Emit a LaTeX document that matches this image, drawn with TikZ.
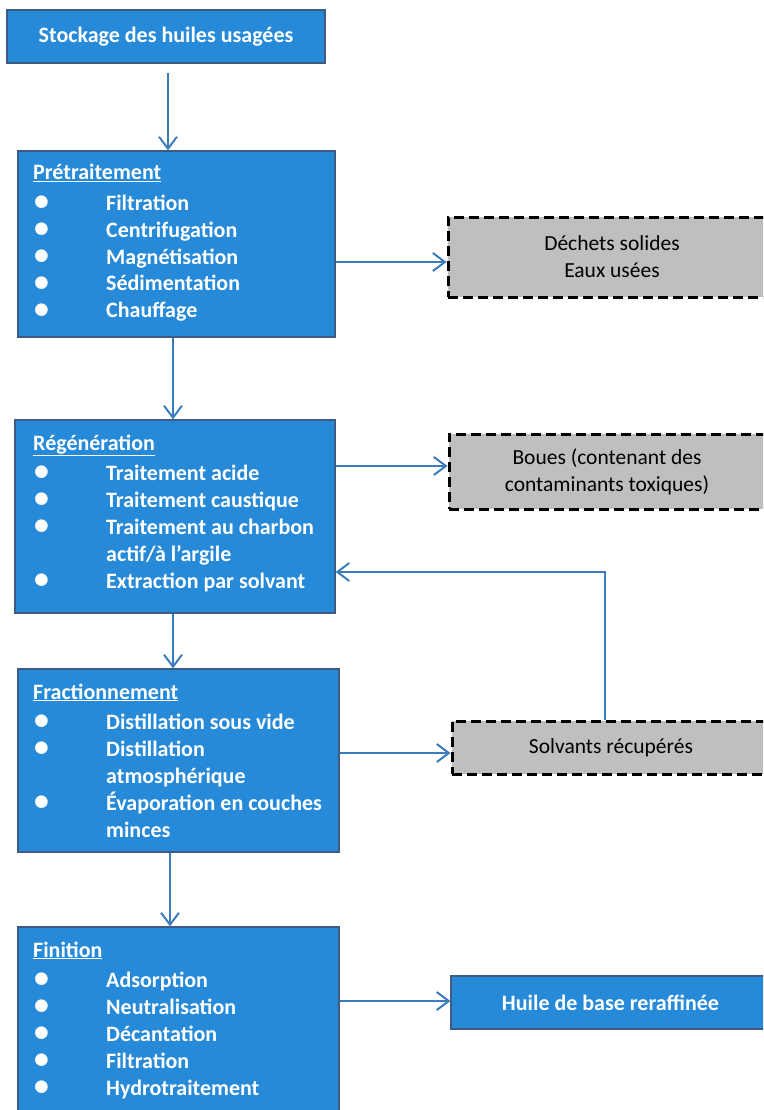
\documentclass[tikz,border=0pt]{standalone}
\usepackage{fontspec}
\setmainfont{Carlito}
\usetikzlibrary{arrows.meta}

\definecolor{bleu}{RGB}{38,138,216}
\definecolor{bord}{RGB}{62,92,130}
\definecolor{trait}{RGB}{60,124,190}
\definecolor{gris}{RGB}{191,191,191}

\newcommand{\puce}{\makebox[73pt][l]{\hspace*{1pt}\raisebox{-0.8pt}{\scalebox{1.35}{\textbullet}}}}
\newcommand{\suite}{\hspace*{73pt}}

\tikzset{
  bluebox/.style={draw=bord, line width=1.2pt, fill=bleu, inner sep=0pt,
    text=white, font=\fontsize{22}{27}\selectfont\bfseries},
  greybox/.style={draw=black, line width=3pt, dash pattern=on 10pt off 5pt,
    fill=gris, inner sep=0pt, align=center, text=black,
    font=\fontsize{21.5}{27}\selectfont},
  liste/.style={anchor=base west, inner sep=0pt, text=white,
    font=\fontsize{22}{27}\selectfont\bfseries},
  fleche/.style={draw=trait, line width=2pt,
    -{Straight Barb[length=12pt,width=18pt]}}
}

\begin{document}
\begin{tikzpicture}[x=1pt, y=-1pt]
        \clip (0,0) rectangle (763,1110);
        % colonne des etapes
        \node [bluebox, minimum width=318, minimum height=53] (stock) at (166,36.5) {Stockage des huiles usagées};
        \node [bluebox, minimum width=317, minimum height=186] (pre) at (176.5,244) {};
        \node [bluebox, minimum width=320, minimum height=193] (regen) at (175,516.5) {};
        \node [bluebox, minimum width=321, minimum height=183] (frac) at (178.5,760.5) {};
        \node [bluebox, minimum width=321, minimum height=193] (fin) at (178.5,1023.5) {};
        % textes des etapes
        \node [liste] (tpre) at (33,180) {\begin{tabular}[t]{@{}l@{}}
          \underline{Prétraitement}\\[3pt]
          \puce Filtration\\
          \puce Centrifugation\\
          \puce Magnétisation\\
          \puce Sédimentation\\
          \puce Chauffage
        \end{tabular}};
        \node [liste] (tregen) at (33,450) {\begin{tabular}[t]{@{}l@{}}
          \underline{Régénération}\\[3pt]
          \puce Traitement acide\\
          \puce Traitement caustique\\
          \puce Traitement au charbon\\
          \suite actif/à l’argile\\
          \puce Extraction par solvant
        \end{tabular}};
        \node [liste] (tfrac) at (33,699) {\begin{tabular}[t]{@{}l@{}}
          \underline{Fractionnement}\\[3pt]
          \puce Distillation sous vide\\
          \puce Distillation\\
          \suite atmosphérique\\
          \puce Évaporation en couches\\
          \suite minces
        \end{tabular}};
        \node [liste] (tfin) at (33,957) {\begin{tabular}[t]{@{}l@{}}
          \underline{Finition}\\[3pt]
          \puce Adsorption\\
          \puce Neutralisation\\
          \puce Décantation\\
          \puce Filtration\\
          \puce Hydrotraitement
        \end{tabular}};
        % sorties
        \node [greybox, minimum width=328, minimum height=80] (dechets) at (612,257) {Déchets solides\\Eaux usées};
        \node [greybox, minimum width=316, minimum height=75] (boues) at (607,471.5) {Boues (contenant des\\contaminants toxiques)};
        \node [greybox, minimum width=318, minimum height=53] (solv) at (611,747.5) {Solvants récupérés};
        \node [bluebox, minimum width=319, minimum height=53] (huile) at (610.5,1002.5) {Huile de base reraffinée};
        % fleches
        \draw [fleche] ([xshift=2pt,yshift=-9pt]stock.south) to ([xshift=2pt]stock.south |- pre.north);
        \draw [fleche] ([xshift=-2pt]regen.north |- pre.south) to ([xshift=-2pt]regen.north);
        \draw [fleche] ([xshift=-2pt]regen.south) to ([xshift=-2pt]regen.south |- frac.north);
        \draw [fleche] ([xshift=-8.5pt]frac.south) to ([xshift=-8.5pt]frac.south |- fin.north);
        \draw [fleche] ([yshift=-18pt]pre.east) to ([yshift=-18pt]pre.east -| dechets.west);
        \draw [fleche] ([yshift=50.5pt]regen.east) to ([yshift=50.5pt]regen.east -| boues.west);
        \draw [fleche] ([yshift=7.5pt]frac.east) to ([yshift=7.5pt]frac.east -| solv.west);
        \draw [fleche] ([yshift=22.5pt]fin.east) to ([yshift=22.5pt]fin.east -| huile.west);
        \draw [fleche] ([xshift=-6pt]solv.north) |- ([yshift=-55.5pt]regen.east);
      \end{tikzpicture}
\end{document}
